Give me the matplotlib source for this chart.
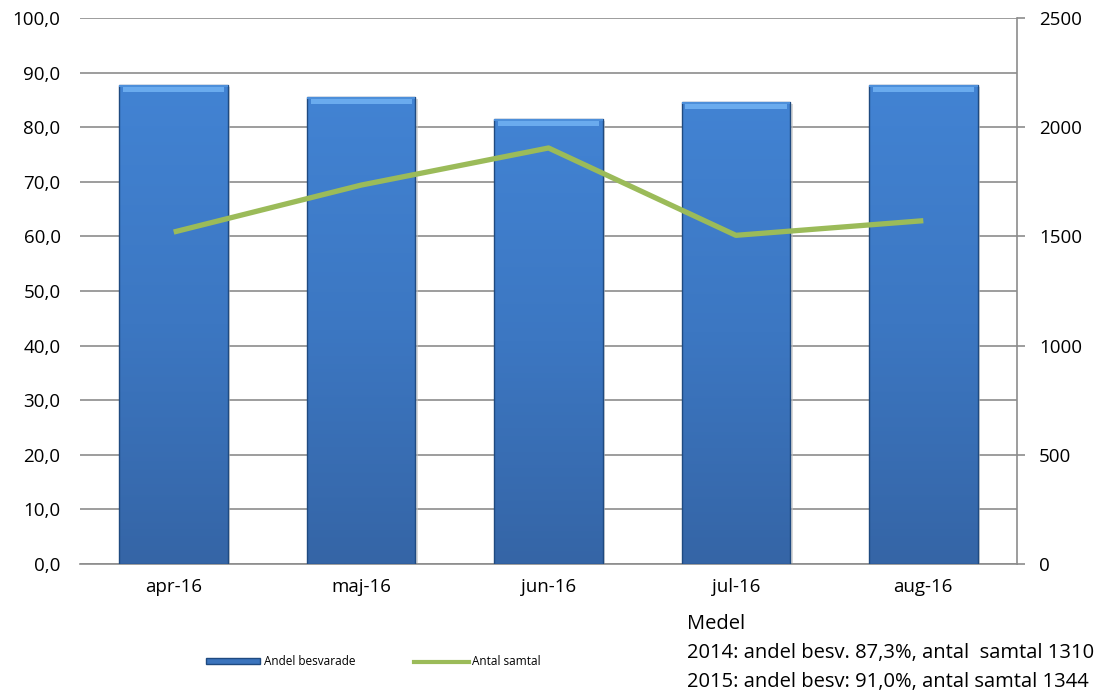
import numpy as np
import matplotlib
matplotlib.use("Agg")
from matplotlib import pyplot as plt
from matplotlib.patches import Rectangle, Patch
from matplotlib.lines import Line2D

months = ["apr-16", "maj-16", "jun-16", "jul-16", "aug-16"]
andel_besvarade = [87.7, 85.5, 81.5, 84.7, 87.7]
antal_samtal = [1520, 1735, 1905, 1505, 1572]
left_ticks = np.arange(0, 101, 10)
right_ticks = np.arange(0, 2501, 500)
note = ["Medel",
        "2014: andel besv. 87,3%, antal  samtal 1310",
        "2015: andel besv: 91,0%, antal samtal 1344"]

plt.rcParams['font.family'] = ['Open Sans', 'DejaVu Sans']

fig = plt.figure(figsize=(11.16, 6.93), dpi=100)
ax = fig.add_axes([0.0717, 0.1861, 0.8396, 0.7879])

x = np.arange(len(months))
width = 0.58
grid_c = '#8c8c8c'
fs = 13.5

ax.set_xlim(-0.5, len(months) - 0.5)
ax.set_ylim(0, 100)
ax.set_yticks(left_ticks)
ax.yaxis.set_major_formatter(plt.FuncFormatter(lambda v, p: ("%.1f" % v).replace('.', ',')))
ax.grid(axis='y', color=grid_c, linewidth=1.2)
ax.set_axisbelow(True)
for s in ['top', 'right', 'left']:
    ax.spines[s].set_visible(False)
ax.spines['bottom'].set_color(grid_c)
ax.spines['bottom'].set_linewidth(1.2)
ax.tick_params(axis='y', length=0, labelsize=fs, pad=14)
ax.tick_params(axis='x', length=0, labelsize=fs, pad=10)
ax.set_xticks(x)
ax.set_xticklabels(months)

# bars with a vertical gradient and a light top bevel
grad = np.linspace(0, 1, 256).reshape(-1, 1)
cmap = matplotlib.colors.LinearSegmentedColormap.from_list(
    "bar", ["#3565a6", "#3c77c2", "#4283d3"])
for xi, v in zip(x, andel_besvarade):
    # soft shadow
    ax.add_patch(Rectangle((xi - width / 2 + 0.012, 0), width, v - 0.4,
                           facecolor='#bfbfbf', edgecolor='none', alpha=0.6, zorder=2))
    rect = Rectangle((xi - width / 2, 0), width, v, facecolor='none',
                     edgecolor='#1f4a80', linewidth=1.0, zorder=4)
    ax.add_patch(rect)
    im = ax.imshow(grad, cmap=cmap, aspect='auto', origin='lower',
                   extent=(xi - width / 2, xi + width / 2, 0, v), zorder=3)
    im.set_clip_path(rect)
    ax.add_patch(Rectangle((xi - width / 2 + 0.02, v - 1.3), width - 0.04, 1.0,
                           facecolor='#6fb0f2', edgecolor='none', alpha=0.9, zorder=4))
    ax.add_patch(Rectangle((xi - width / 2, v - 0.4), width, 0.4,
                           facecolor='#4d8fda', edgecolor='none', zorder=4))

ax.set_xlim(-0.5, len(months) - 0.5)
ax.set_ylim(0, 100)

ax2 = ax.twinx()
ax2.set_ylim(0, 2500)
ax2.set_yticks(right_ticks)
ax2.plot(x, antal_samtal, color='#9bbb59', linewidth=3.8, solid_capstyle='butt', zorder=5)
for s in ['top', 'left', 'bottom']:
    ax2.spines[s].set_visible(False)
ax2.spines['right'].set_color(grid_c)
ax2.spines['right'].set_linewidth(1.2)
ax2.tick_params(axis='y', direction='out', length=6, color=grid_c, width=1.2,
                labelsize=fs, pad=10)

handles = [Patch(facecolor='#3b74bd', edgecolor='#1f4a80'),
           Line2D([0], [0], color='#9bbb59', linewidth=3)]
fig.legend(handles, ["Andel besvarade", "Antal samtal"], loc='center',
           bbox_to_anchor=(0.3345, 0.045), ncol=2, frameon=False, fontsize=8.5,
           handlelength=4.6, handleheight=0.5, columnspacing=5.0, handletextpad=0.3)

fig.text(0.616, 0.058, "\n".join(note), fontsize=14.5, va='center', ha='left',
         linespacing=1.6)

fig.savefig("out.png", dpi=100)
